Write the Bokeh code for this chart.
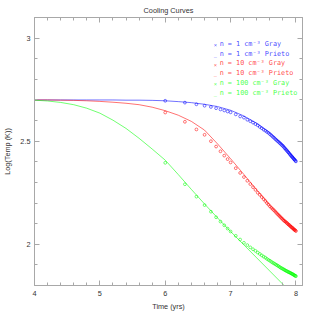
import numpy as np
from bokeh.plotting import figure
from bokeh.models import Range1d, LinearAxis, FixedTicker, Label
from bokeh.embed import file_html
from bokeh.resources import INLINE

# Prieto curves (lines): log time grid and log temperature
line_logt = [4.0, 4.2, 4.4, 4.6, 4.8, 5.0, 5.2, 5.4, 5.6, 5.8, 6.0,
             6.2, 6.4, 6.6, 6.8, 7.0, 7.2, 7.4, 7.6, 7.8, 8.0]
blue_prieto = [2.700, 2.700, 2.700, 2.700, 2.700, 2.700, 2.700, 2.699, 2.699, 2.698, 2.696,
               2.692, 2.687, 2.679, 2.668, 2.650, 2.623, 2.587, 2.541, 2.482, 2.408]
red_prieto = [2.700, 2.700, 2.699, 2.698, 2.696, 2.693, 2.689, 2.684, 2.677, 2.665, 2.648,
              2.626, 2.596, 2.554, 2.487, 2.415, 2.340, 2.264, 2.190, 2.123, 2.064]
green_prieto = [2.699, 2.695, 2.688, 2.677, 2.660, 2.636, 2.602, 2.562, 2.514, 2.462, 2.408,
                2.338, 2.266, 2.196, 2.128, 2.062, 1.998, 1.934, 1.870, 1.806, 1.742]

# Gray model (points): time in Myr
gray_time_myr = [1, 2, 3, 4, 5, 6, 7, 8, 9, 10,
                 12, 14, 16, 18, 20, 22, 24, 26, 28, 30,
                 32, 34, 36, 38, 40, 42, 44, 46, 48, 50,
                 52, 54, 56, 58, 60, 62, 64, 66, 68, 70,
                 72, 74, 76, 78, 80, 82, 84, 86, 88, 90,
                 92, 94, 96, 98, 100]
blue_gray = [2.696, 2.687, 2.679, 2.672, 2.666, 2.660, 2.654, 2.649, 2.644, 2.640,
             2.630, 2.620, 2.614, 2.604, 2.597, 2.590, 2.583, 2.577, 2.569, 2.563,
             2.556, 2.551, 2.545, 2.540, 2.534, 2.528, 2.522, 2.517, 2.511, 2.506,
             2.501, 2.497, 2.492, 2.488, 2.483, 2.479, 2.475, 2.469, 2.465, 2.460,
             2.456, 2.451, 2.447, 2.443, 2.438, 2.434, 2.430, 2.426, 2.423, 2.419,
             2.415, 2.412, 2.409, 2.405, 2.402]
red_gray = [2.639, 2.594, 2.557, 2.531, 2.500, 2.474, 2.451, 2.430, 2.413, 2.397,
            2.369, 2.346, 2.326, 2.308, 2.292, 2.277, 2.264, 2.250, 2.240, 2.229,
            2.219, 2.210, 2.200, 2.192, 2.184, 2.177, 2.171, 2.165, 2.159, 2.153,
            2.147, 2.142, 2.137, 2.132, 2.127, 2.123, 2.118, 2.114, 2.111, 2.108,
            2.104, 2.101, 2.097, 2.094, 2.092, 2.088, 2.085, 2.082, 2.080, 2.077,
            2.074, 2.071, 2.069, 2.067, 2.064]
green_gray = [2.395, 2.291, 2.231, 2.190, 2.158, 2.131, 2.110, 2.092, 2.076, 2.062,
              2.041, 2.023, 2.007, 1.996, 1.985, 1.976, 1.968, 1.960, 1.953, 1.946,
              1.940, 1.935, 1.929, 1.924, 1.920, 1.915, 1.911, 1.907, 1.904, 1.900,
              1.897, 1.894, 1.890, 1.887, 1.884, 1.882, 1.879, 1.877, 1.874, 1.872,
              1.870, 1.868, 1.866, 1.864, 1.863, 1.861, 1.859, 1.857, 1.856, 1.854,
              1.852, 1.850, 1.848, 1.847, 1.845]

legend_labels = ["n = 1 cm\u207b\u00b3 Gray", "n = 1 cm\u207b\u00b3 Prieto",
                 "n = 10 cm\u207b\u00b3 Gray", "n = 10 cm\u207b\u00b3 Prieto",
                 "n = 100 cm\u207b\u00b3 Gray", "n = 100 cm\u207b\u00b3 Prieto"]

x_major = [4, 5, 6, 7, 8]
y_major = [2, 2.5, 3]
title_text = "Cooling Curves"
x_label = "Time (yrs)"
y_label = "Log(Temp (K))"

BLUE, RED, GREEN = "#0000ff", "#ff0000", "#00ff00"
AXC = "#a8a8a8"
TXT = "#333333"
FONT = "Liberation Sans"
FS = "7.3px"

gray_logt = np.log10(np.array(gray_time_myr, dtype=float) * 1e6)

p = figure(width=319, height=319, x_range=Range1d(4, 8.1), y_range=Range1d(1.8, 3.1),
           output_backend="svg", toolbar_location=None,
           title=title_text, x_axis_label=x_label, y_axis_label=y_label,
           min_border_left=34, min_border_right=17, min_border_top=17, min_border_bottom=34)

p.title.text_font = FONT
p.title.text_font_size = FS
p.title.text_font_style = "normal"
p.title.text_color = TXT
p.title.align = "center"
p.title.standoff = 5
p.title.offset = 0

p.xgrid.visible = False
p.ygrid.visible = False
p.outline_line_color = AXC
p.background_fill_color = "white"
p.border_fill_color = "white"

x_minor = [round(4 + 0.2 * i, 2) for i in range(21) if i % 5 != 0]
y_minor = [round(1.8 + 0.1 * i, 2) for i in range(14) if round(1.8 + 0.1 * i, 2) not in (2.0, 2.5, 3.0)]

def style(ax, labels=True):
    ax.axis_line_color = AXC
    ax.major_tick_line_color = AXC
    ax.minor_tick_line_color = AXC
    ax.major_tick_in = 5
    ax.major_tick_out = 0
    ax.minor_tick_in = 3
    ax.minor_tick_out = 0
    if labels:
        ax.major_label_text_font = FONT
        ax.major_label_text_font_size = FS
        ax.major_label_text_color = TXT
        ax.axis_label_text_font = FONT
        ax.axis_label_text_font_size = FS
        ax.axis_label_text_font_style = "normal"
        ax.axis_label_text_color = TXT
    else:
        ax.major_label_text_color = None
        ax.major_label_text_alpha = 0
        ax.major_label_text_font_size = "1px"
        ax.major_label_standoff = 0

xt = FixedTicker(ticks=x_major, minor_ticks=x_minor)
yt = FixedTicker(ticks=y_major, minor_ticks=y_minor)

p.xaxis.ticker = xt
p.yaxis.ticker = yt
style(p.xaxis[0])
style(p.yaxis[0])
p.xaxis.major_label_standoff = 5
p.xaxis.axis_label_standoff = 3
p.yaxis.major_label_standoff = 4
p.yaxis.axis_label_standoff = 5
p.yaxis.major_label_overrides = {2: "2", 2.5: "2.5", 3: "3"}

top = LinearAxis(ticker=xt)
right = LinearAxis(ticker=yt)
style(top, labels=False)
style(right, labels=False)
p.add_layout(top, "above")
p.add_layout(right, "right")

# Prieto lines
for ys, c in [(blue_prieto, BLUE), (red_prieto, RED), (green_prieto, GREEN)]:
    p.line(line_logt, ys, line_color=c, line_width=0.7, line_alpha=0.8)

# Gray points
for ys, c in [(blue_gray, BLUE), (red_gray, RED), (green_gray, GREEN)]:
    p.scatter(gray_logt, ys, marker="circle", size=2.8, line_color=c, line_width=0.6,
              line_alpha=0.9, fill_color=None)

# Legend (drawn as text)
leg_colors = [BLUE, BLUE, RED, RED, GREEN, GREEN]
leg_y = [2.972, 2.925, 2.877, 2.830, 2.783, 2.734]
for i, (lab, c, yy) in enumerate(zip(legend_labels, leg_colors, leg_y)):
    p.add_layout(Label(x=6.833, y=yy, text=lab, text_color=c, text_alpha=0.75,
                       text_font="DejaVu Sans Mono", text_font_size="6.8px",
                       text_baseline="middle", text_align="left"))
    sym = "\u00d7" if i % 2 == 0 else "_"
    p.add_layout(Label(x=6.741, y=yy, text=sym, text_color=c, text_alpha=0.75,
                       text_font="DejaVu Sans Mono", text_font_size="5.5px",
                       text_baseline="middle",
                       y_offset=-1.5 if i % 2 == 0 else 0, text_align="left"))

open("out.html", "w").write(file_html(p, INLINE))
